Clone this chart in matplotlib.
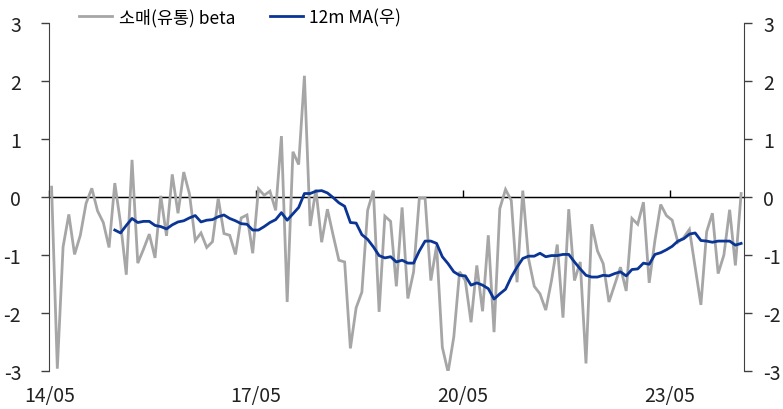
import matplotlib
matplotlib.use("Agg")
import matplotlib.pyplot as plt
import numpy as np

plt.rcParams['font.family'] = ['Noto Sans CJK KR', 'DejaVu Sans']

# monthly observations, 2014/05 .. 2024/05
beta = [
    0.17, -2.96, -0.86, -0.30, -0.99, -0.66, -0.11, 0.15, -0.24, -0.44,
    -0.87, 0.24, -0.45, -1.34, 0.64, -1.14, -0.90, -0.64, -1.05, 0.02,
    -0.67, 0.39, -0.28, 0.43, 0.05, -0.75, -0.62, -0.87, -0.77, -0.02,
    -0.63, -0.66, -0.99, -0.36, -0.31, -0.97, 0.14, 0.03, 0.10, -0.23,
    1.05, -1.81, 0.78, 0.56, 2.09, -0.50, 0.13, -0.78, -0.21, -0.66,
    -1.09, -1.12, -2.61, -1.91, -1.64, -0.23, 0.11, -1.98, -0.33, -0.42,
    -1.54, -0.18, -1.75, -1.29, -0.02, -0.02, -1.44, -0.84, -2.59, -3.02,
    -2.41, -1.29, -1.44, -2.16, -1.18, -1.97, -0.66, -2.33, -0.20, 0.13,
    -0.06, -1.47, 0.11, -1.06, -1.54, -1.67, -1.95, -1.44, -0.82, -2.08,
    -0.21, -1.44, -1.12, -2.87, -0.47, -0.93, -1.15, -1.81, -1.51, -1.21,
    -1.62, -0.37, -0.47, -0.09, -1.48, -0.75, -0.13, -0.32, -0.40, -0.78,
    -0.70, -0.56, -1.21, -1.86, -0.60, -0.28, -1.32, -1.00, -0.22, -1.18,
    0.06,
]

ma12 = [np.nan] * 11 + [
    -0.57, -0.62, -0.49, -0.37, -0.44, -0.42, -0.42, -0.49, -0.51, -0.55,
    -0.48, -0.43, -0.41, -0.36, -0.32, -0.43, -0.40, -0.39, -0.34, -0.31,
    -0.37, -0.41, -0.46, -0.47, -0.57, -0.57, -0.51, -0.44, -0.39, -0.27,
    -0.40, -0.29, -0.18, 0.06, 0.06, 0.10, 0.11, 0.07, -0.01, -0.10,
    -0.16, -0.44, -0.45, -0.65, -0.73, -0.86, -1.01, -1.05, -1.03, -1.12,
    -1.09, -1.14, -1.14, -0.93, -0.76, -0.76, -0.80, -1.03, -1.15, -1.29,
    -1.35, -1.36, -1.52, -1.48, -1.52, -1.58, -1.76, -1.67, -1.59, -1.38,
    -1.21, -1.06, -1.02, -1.02, -0.97, -1.03, -1.01, -1.01, -0.99, -0.99,
    -1.12, -1.24, -1.35, -1.38, -1.38, -1.35, -1.36, -1.32, -1.29, -1.36,
    -1.25, -1.24, -1.14, -1.16, -0.99, -0.96, -0.91, -0.85, -0.76, -0.72,
    -0.64, -0.62, -0.75, -0.76, -0.78, -0.76, -0.76, -0.76, -0.83, -0.80,
]

tick_labels = ['14/05', '17/05', '20/05', '23/05']
tick_months = [0, 36, 72, 108]
y_ticks = [-3, -2, -1, 0, 1, 2, 3]

x = np.arange(len(beta))

fig = plt.figure(figsize=(7.83, 4.10), dpi=100)
ax = fig.add_axes([49 / 783, 38 / 410, (744 - 49) / 783, (372 - 24) / 410])
ax2 = ax.twinx()

gray = '#A6A6A6'
blue = '#0A3595'
axis_col = '#404040'

l1, = ax.plot(x, beta, color=gray, lw=2.0, solid_joinstyle='miter', zorder=3)
l2, = ax2.plot(x, ma12, color=blue, lw=2.0, zorder=4)
ax.axhline(0, color='black', lw=1.0, zorder=2)

for a in (ax, ax2):
    a.set_ylim(-3, 3)
    a.set_yticks(y_ticks)
    a.set_xlim(-0.45, 120.5)
    for s in ('top', 'bottom'):
        a.spines[s].set_visible(False)
ax.spines['left'].set_color(axis_col)
ax2.spines['right'].set_color(axis_col)
ax2.spines['left'].set_visible(False)
ax.spines['right'].set_visible(False)

ax.tick_params(axis='y', direction='out', length=6, width=1, color=axis_col,
               labelsize=14, labelcolor='#222222', pad=14)
ax2.tick_params(axis='y', direction='out', length=6, width=1, color=axis_col,
                labelsize=14, labelcolor='#222222', pad=8)
ax.set_yticklabels([str(v) for v in y_ticks])
ax2.set_yticklabels([str(v) for v in y_ticks])

xt = [m - 0.4 for m in tick_months]
ax.set_xticks(xt)
ax.set_xticklabels(tick_labels)
ax.tick_params(axis='x', length=0, labelsize=14, labelcolor='#222222', pad=10)
ax2.tick_params(axis='x', length=0)
ax.get_xticklabels()[0].set_x(xt[0])
for lab in ax.get_xticklabels()[:1]:
    lab.set_horizontalalignment('center')

sec = ax.secondary_xaxis(0.5)
sec.set_xticks(xt)
sec.set_xticklabels([''] * len(xt))
sec.tick_params(axis='x', direction='out', length=5, width=1, color='black')
sec.spines['bottom'].set_visible(False)

leg = fig.legend([l1, l2], ['소매(유통) beta', '12m MA(우)'], loc='center',
                 bbox_to_anchor=(240 / 783, 1 - 18 / 410), ncol=2, frameon=False,
                 fontsize=12.5, handlelength=1.9, handletextpad=0.35, columnspacing=2.0)

fig.savefig('out.png', dpi=100)
